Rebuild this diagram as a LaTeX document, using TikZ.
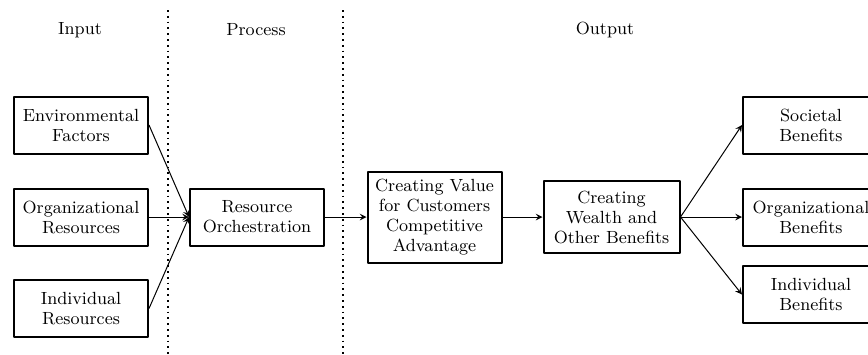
\documentclass[tikz,border=0pt]{standalone}
\begin{document}
\begin{tikzpicture}[x=0.5pt,y=-0.5pt,>=stealth,line join=round,
  font=\fontsize{8.8}{10}\selectfont,
  box/.style={draw,line width=1pt,align=center,inner sep=1pt,minimum width=67pt,minimum height=28.5pt},
  head/.style={align=center},
  flow/.style={->,line width=0.5pt}]
\useasboundingbox (0,0) rectangle (868,354);
\draw[dotted,line width=0.9pt] (168,10)--(168,354) (343,10)--(343,354);
\node[head] (hin) at (80,30) {Input};
\node[head] (hpr) at (256,30) {Process};
\node[head] (hout) at (605,30) {Output};
\node[box] (env) at (81,125) {Environmental\\Factors};
\node[box] (org) at (81,217) {Organizational\\Resources};
\node[box] (ind) at (81,308.5) {Individual\\Resources};
\node[box] (ro) at (257,217) {Resource\\Orchestration};
\node[box,minimum height=45.5pt] (cv) at (434.5,217) {Creating Value\\for Customers\\Competitive\\Advantage};
\node[box,minimum width=68pt,minimum height=36pt] (cw) at (611.5,217) {Creating\\Wealth and\\Other Benefits};
\node[box,minimum width=68pt] (soc) at (811,125) {Societal\\Benefits};
\node[box,minimum width=68pt] (orgb) at (811,217) {Organizational\\Benefits};
\node[box,minimum width=68pt] (indb) at (811,294.5) {Individual\\Benefits};
\draw[flow] (env.east)--(ro.west);
\draw[flow] (org.east)--(ro.west);
\draw[flow] (ind.east)--(ro.west);
\draw[flow] (ro.east)--(cv.west);
\draw[flow] (cv.east)--(cw.west);
\draw[flow] (cw.east)--(soc.west);
\draw[flow] (cw.east)--(orgb.west);
\draw[flow] (cw.east)--(indb.west);
\end{tikzpicture}
\end{document}
